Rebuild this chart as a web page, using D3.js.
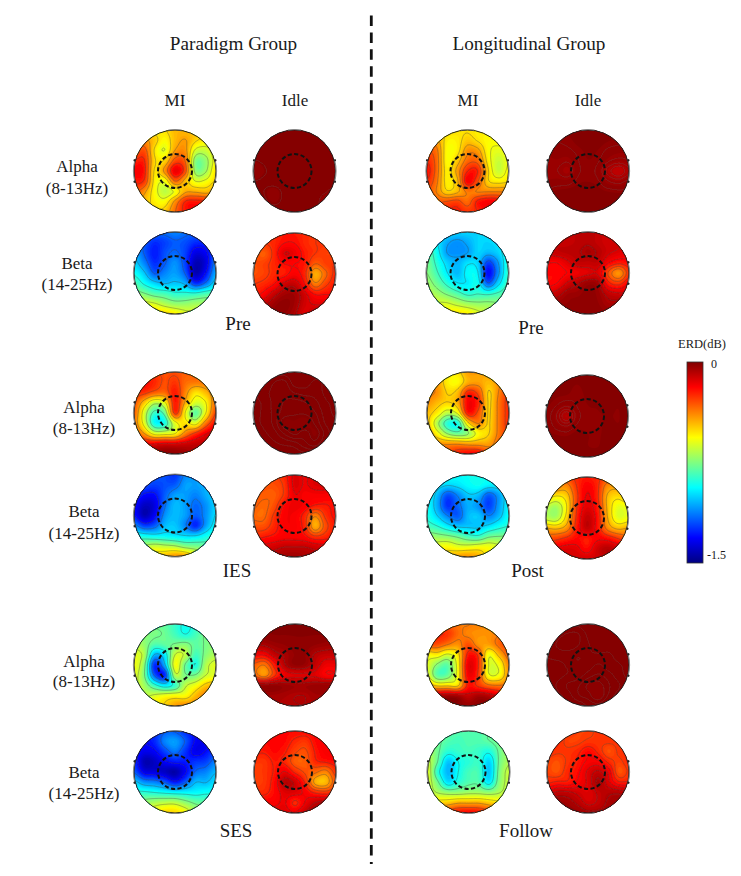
<!DOCTYPE html>
<html><head><meta charset="utf-8">
<script src="https://cdn.jsdelivr.net/npm/d3@7"></script>
<style>html,body{margin:0;padding:0;background:#fff}svg{display:block}text{font-family:"Liberation Serif","Times New Roman",serif;fill:#1a1a1a}</style>
</head><body><svg id="c" width="741" height="876"></svg>
<script>
// ERD magnitude, in hundredths of a dB below zero (0 = 0 dB, 150 = -1.5 dB), scalp grid top to bottom.
const pgPreAlphaMI=[[54,54,54,52,46,46,48,50,50],[42,40,48,56,46,42,50,54,54],[36,30,52,60,42,40,62,64,54],[24,24,50,50,30,34,74,72,56],[18,22,52,40,16,30,72,70,52],[22,26,54,58,34,46,60,58,50],[30,40,56,66,58,44,44,46,42],[40,46,54,56,40,24,22,24,30],[46,48,50,48,34,22,20,24,30]];
const pgPreAlphaIdle=[[.6,.6,.6,.5,.5,.6,.7,.7,.7],[.6,.7,.7,.5,.5,.8,1.1,.9,.7],[.8,.8,.8,.6,.5,.7,1.2,1,.8],[1.5,1.2,.9,.6,.5,.7,1.1,.9,.7],[2.5,1.6,1,.7,.6,.7,.8,.7,.6],[1.4,1.2,1,.8,.7,.7,.6,.6,.5],[1,1.4,1.8,1.2,.8,.6,.6,1.2,2.5],[.8,1.2,1.6,1.2,.8,.6,.6,3,5.5],[.7,.8,.9,.8,.6,.5,.5,1.5,2]];
const pgPreBetaMI=[[115,115,115,115,112,115,118,120,120],[112,118,125,122,118,120,125,125,120],[105,118,128,120,116,122,135,132,118],[100,112,125,118,110,122,142,136,112],[92,102,118,112,108,118,142,130,106],[82,92,100,104,102,106,125,115,98],[72,76,82,84,88,88,88,84,82],[62,60,62,68,72,72,70,70,70],[55,52,50,50,54,60,62,66,66]];
const pgPreBetaIdle=[[24,24,24,22,22,24,26,26,26],[24,26,24,20,20,24,26,26,26],[28,32,24,14,16,22,26,28,28],[30,28,24,20,20,22,32,28,26],[30,28,24,22,18,24,44,34,24],[26,24,20,12,10,20,36,28,22],[22,18,10,5,5,12,20,20,20],[18,10,4,2,5,12,14,14,16],[14,8,3,3,7,14,8,10,14]];
const lgPreAlphaMI=[[48,48,50,52,52,54,54,54,54],[40,42,54,54,48,52,56,56,56],[30,36,56,54,40,42,56,60,56],[24,34,56,48,34,34,54,64,58],[20,34,54,42,24,24,50,64,56],[24,36,54,46,18,30,50,54,52],[30,38,50,46,36,38,38,38,38],[32,32,30,28,34,22,18,20,30],[32,30,24,22,26,24,20,24,30]];
const lgPreAlphaIdle=[[2.2,2,1.5,1.2,1,1.2,1.4,1.6,1.8],[2.4,2.1,1.8,1.3,1,1.2,1.5,1.7,1.9],[2.8,2.6,2.4,1.8,1.4,1.6,2.4,2.8,2.8],[3.4,3.2,3.6,2.2,1.6,2,3.6,4.5,4],[3.8,3.8,5,2.4,2,2.6,6.5,9,6],[3,2.8,2.8,1.8,1.6,2,3.8,4.6,3.4],[1.8,1.4,1.2,1,.9,1.2,1.6,1.8,1.8],[1,.7,.6,.5,.5,.6,.8,1,1.2],[.6,.5,.5,.4,.4,.4,.5,.6,.7]];
const lgPreBetaMI=[[92,95,98,100,100,100,98,95,92],[86,96,106,110,106,100,100,98,92],[78,92,108,110,108,100,104,100,90],[76,88,100,105,98,100,122,108,88],[74,84,96,104,94,96,130,110,86],[70,78,88,96,96,92,118,100,84],[66,70,76,82,88,86,88,84,80],[62,62,62,66,70,72,72,74,78],[58,56,54,52,54,60,66,72,76]];
const lgPreBetaIdle=[[10,10,10,9,8,10,12,12,12],[10,10,10,9,8,10,12,12,14],[12,10,9,8,6,8,12,14,16],[18,18,14,10,10,10,18,22,20],[20,20,18,16,14,14,30,40,26],[20,18,12,8,4,6,22,26,18],[14,10,5,4,2,4,10,12,12],[8,4,3,2,2,3,6,6,8],[4,3,2,2,2,2,3,4,6]];
const pgIesAlphaMI=[[26,26,28,30,30,32,32,32,32],[20,20,24,30,26,34,36,36,36],[24,26,32,34,22,38,52,46,36],[30,48,66,58,22,44,62,56,34],[32,62,86,78,26,56,80,56,28],[36,60,92,90,60,52,60,36,20],[30,42,60,60,56,38,26,16,12],[22,18,16,14,14,12,10,10,12],[14,8,4,2,2,4,8,10,12]];
const pgIesAlphaIdle=[[.5,.5,.5,.5,.4,.4,.5,.5,.5],[.5,.6,.9,1,.5,.5,.7,.6,.5],[.6,.8,1,1.1,.9,.8,.8,.6,.5],[.6,.7,1,1.2,1.3,1.2,1,.7,.6],[.6,.7,1,1.3,1.4,1.4,1.2,.8,.6],[.6,.7,1,1.6,1.6,1.7,1.4,.9,.7],[.5,.6,.8,1.2,1.5,1.3,1.6,1.1,.7],[.5,.5,.6,.7,.8,1.1,1.3,.9,.6],[.4,.4,.5,.5,.5,.6,.7,.6,.5]];
const pgIesBetaMI=[[118,118,118,120,124,112,110,108,108],[118,120,122,120,118,108,108,106,106],[122,130,130,118,108,108,112,106,100],[130,140,136,115,104,108,116,110,100],[128,142,132,110,104,108,118,110,98],[110,122,118,104,102,112,126,108,94],[90,92,94,94,96,98,98,92,86],[76,68,64,66,68,74,76,78,78],[66,58,50,46,40,42,56,66,72]];
const pgIesBetaIdle=[[28,28,28,24,14,16,14,14,14],[28,30,30,26,14,16,14,14,16],[30,32,32,26,16,18,18,18,20],[32,34,30,20,16,18,22,22,20],[34,34,26,18,18,24,38,26,20],[30,30,24,18,18,24,44,30,22],[24,22,20,18,18,20,26,24,20],[16,14,12,10,10,10,12,14,16],[10,8,7,5,4,6,8,10,12]];
const lgPostAlphaMI=[[44,46,52,52,42,42,42,40,40],[38,42,54,56,44,42,46,40,34],[36,40,50,46,24,30,50,38,26],[40,46,50,44,18,24,50,36,24],[46,54,66,58,22,30,50,36,24],[46,68,88,90,52,38,50,36,24],[42,56,72,78,72,56,50,36,26],[40,40,40,40,42,42,42,34,30],[38,36,30,22,18,18,30,36,34]];
const lgPostAlphaIdle=[[.8,.8,.9,1,.9,.9,.8,.8,.8],[.9,.9,1.1,1.6,1.2,1.5,1,.9,.8],[1,1.4,1.6,2,1.4,1.5,1.3,1,.9],[1.4,2.2,3.4,2.2,1.6,1.5,1.2,1.5,1.1],[1.6,3.6,8,3,1.8,1.7,1.5,1.6,1.3],[1.5,2.6,3.6,2,1.7,1.8,1.3,1.5,1.3],[1.2,1.4,1.5,1.1,1.5,1.7,1.2,1.1,1],[.9,.9,.9,1,1.5,1.6,1,.9,.9],[.8,.8,.8,.8,.9,.9,.8,.8,.8]];
const lgPostBetaMI=[[88,90,92,94,92,92,92,92,90],[90,96,100,98,94,92,96,96,92],[92,104,120,112,102,104,118,108,94],[92,106,124,116,106,110,122,108,94],[90,100,112,118,104,102,112,104,92],[84,88,96,102,102,102,98,92,88],[70,72,74,78,84,86,78,76,76],[62,58,56,60,60,58,58,62,66],[56,50,48,42,40,44,56,60,62]];
const lgPostBetaIdle=[[30,30,30,24,22,24,30,32,34],[34,38,40,26,18,24,40,42,38],[50,56,50,28,16,24,46,52,46],[66,70,54,26,14,22,46,60,58],[66,68,50,24,10,20,44,60,58],[44,46,40,22,10,20,38,46,44],[30,28,24,20,22,18,20,26,32],[20,16,14,15,20,12,8,12,20],[16,12,12,12,12,12,10,12,16]];
const pgSesAlphaMI=[[74,76,78,80,86,92,88,80,78],[72,74,76,78,84,90,84,76,74],[66,72,82,80,76,74,80,76,72],[60,68,104,96,64,66,84,74,68],[58,74,125,105,58,78,90,68,60],[60,76,118,125,68,76,76,64,60],[62,70,86,96,86,66,58,48,44],[66,66,62,58,56,56,46,38,40],[64,60,54,50,42,38,40,44,46]];
const pgSesAlphaIdle=[[1.5,1.5,1.5,1.5,1.5,1.5,1.5,1.5,1.5],[2,2,1.5,1.5,1.5,1.5,1.5,1.5,1.5],[7,6,4,3,2,2,3,4,5],[18,18,10,6,3,3,8,10,10],[32,36,22,8,3,4,10,16,16],[32,40,26,16,14,14,14,18,18],[5,4,3,4,5,5,4,4,4],[5,5,5,6,7,7,5,5,5],[5,5,6,7,7,7,6,6,6]];
const pgSesBetaMI=[[128,130,126,118,118,125,130,130,130],[128,130,126,112,108,118,132,134,130],[128,134,132,122,114,124,134,130,122],[125,142,140,132,128,128,124,122,112],[118,134,136,140,144,132,116,112,104],[100,110,112,118,128,118,104,104,98],[88,88,90,92,94,94,94,92,92],[76,72,68,66,66,72,78,80,80],[64,60,56,50,50,56,68,72,74]];
const pgSesBetaIdle=[[20,20,20,20,20,20,20,20,20],[20,20,20,20,24,26,20,18,18],[22,22,20,22,28,30,22,18,18],[26,26,22,24,32,32,24,22,20],[28,26,22,16,24,30,34,38,26],[28,26,20,8,12,24,44,46,30],[24,24,20,14,14,18,24,26,22],[18,18,18,16,24,16,10,8,10],[14,14,14,14,16,10,6,4,6]];
const lgFollowAlphaMI=[[30,30,32,36,36,38,38,36,36],[26,24,26,34,38,40,40,36,30],[30,30,36,40,30,40,42,34,26],[56,54,62,52,22,26,58,46,32],[60,74,80,56,16,24,60,58,38],[58,80,78,56,18,26,58,58,40],[42,50,50,50,22,26,34,36,34],[16,8,5,6,10,6,8,14,18],[6,3,2,2,3,2,2,4,8]];
const lgFollowAlphaIdle=[[.5,.5,.6,.6,.4,.4,.4,.4,.4],[.6,.8,1,1,.6,.5,.5,.5,.5],[.7,1,1.2,1,.7,.6,.6,.6,.5],[.7,.8,.8,.7,.7,.7,.7,.6,.5],[.6,.6,.7,.7,.8,1,.8,.7,.6],[.6,.6,.7,.8,1.1,1.3,1.1,.8,.6],[.6,.7,1,1.2,1.6,1.7,1.3,1,.7],[.5,.6,.8,1.2,1.4,1.8,1.2,.8,.6],[.4,.5,.6,.7,1,1.1,.7,.6,.5]];
const lgFollowBetaMI=[[76,78,80,82,82,82,80,78,76],[74,78,82,84,82,82,80,76,72],[68,78,88,86,84,86,90,78,70],[64,80,102,92,88,86,100,78,68],[60,88,104,92,84,84,102,76,64],[62,78,98,88,82,82,96,74,64],[62,68,72,72,70,70,72,68,62],[52,50,48,44,44,44,48,52,52],[38,32,26,20,18,20,26,34,40]];
const lgFollowBetaIdle=[[22,24,26,28,28,26,26,26,26],[22,24,28,28,26,26,26,26,26],[24,26,26,24,20,24,30,26,24],[28,30,26,22,18,18,24,28,24],[28,30,24,20,14,10,16,30,26],[24,22,22,18,14,6,14,22,22],[14,10,10,12,14,10,8,8,10],[6,4,5,8,12,10,6,5,5],[3,3,3,4,6,6,5,4,5]];

const groupTitles=["Paradigm Group","Longitudinal Group"];
const conditionTitles=["MI","Idle"];
const bandLines=[["Alpha","(8-13Hz)"],["Beta","(14-25Hz)"]];
const sessionLabels=[["Pre","Pre"],["IES","Post"],["SES","Follow"]];
const colorTicks=[0,-1.5];
const jetStops=["#800000","#ff0000","#ff8000","#ffff00","#80ff80","#00ffff","#0080ff","#0000ff","#000080"];

const maps=[
 [pgPreAlphaMI,175,171],[pgPreAlphaIdle,294.5,171],[pgPreBetaMI,175,273],[pgPreBetaIdle,294.5,274],
 [lgPreAlphaMI,467.5,171],[lgPreAlphaIdle,588,171],[lgPreBetaMI,467.5,273],[lgPreBetaIdle,588,273],
 [pgIesAlphaMI,175,413],[pgIesAlphaIdle,294.5,413],[pgIesBetaMI,175,515.5],[pgIesBetaIdle,294.5,516],
 [lgPostAlphaMI,468,413],[lgPostAlphaIdle,587,416],[lgPostBetaMI,468,516],[lgPostBetaIdle,587,518],
 [pgSesAlphaMI,175,665],[pgSesAlphaIdle,295,665],[pgSesBetaMI,175,772],[pgSesBetaIdle,295,772],
 [lgFollowAlphaMI,468,665],[lgFollowAlphaIdle,588,665],[lgFollowBetaMI,468.5,772],[lgFollowBetaIdle,588,772]
];

const R=41, ringR=17, UP=8;
const svg=d3.select("#c");
const defs=svg.append("defs");
defs.append("filter").attr("id","soft").attr("x","-5%").attr("y","-5%").attr("width","110%").attr("height","110%")
  .append("feGaussianBlur").attr("stdDeviation",0.45);
defs.append("clipPath").attr("id","head").append("circle").attr("r",R);
const gr=defs.append("linearGradient").attr("id","jet").attr("x1",0).attr("x2",0).attr("y1",0).attr("y2",1);

const color=d3.scaleLinear().domain(d3.range(jetStops.length).map(i=>-1.5*i/(jetStops.length-1))).range(jetStops).interpolate(d3.interpolateRgb).clamp(true);
jetStops.forEach((c,i)=>gr.append("stop").attr("offset",i/(jetStops.length-1)).attr("stop-color",c));

function cr(p0,p1,p2,p3,t){return 0.5*((2*p1)+(-p0+p2)*t+(2*p0-5*p1+4*p2-p3)*t*t+(-p0+3*p1-3*p2+p3)*t*t*t);}
function upsample(g){
  const k=g.length, n=(k-1)*UP+1, out=new Float64Array(n*n);
  const at=(r,c)=>g[Math.max(0,Math.min(k-1,r))][Math.max(0,Math.min(k-1,c))];
  for(let y=0;y<n;y++){const fy=y/UP,ry=Math.min(k-2,Math.floor(fy)),ty=fy-ry;
    for(let x=0;x<n;x++){const fx=x/UP,rx=Math.min(k-2,Math.floor(fx)),tx=fx-rx;
      const col=[-1,0,1,2].map(d=>cr(at(ry+d,rx-1),at(ry+d,rx),at(ry+d,rx+1),at(ry+d,rx+2),tx));
      out[y*n+x]=-Math.max(0,cr(col[0],col[1],col[2],col[3],ty))/100;
    }}
  return {values:out,n};
}
const levels=d3.range(0,96).map(i=>-1.5+1.5*i/96);
maps.forEach(([grid,cx,cy])=>{
  const {values,n}=upsample(grid);
  const sc=d3.scaleLinear().domain([0.5,n-0.5]).range([-R,R]);
  const path=d3.geoPath(d3.geoTransform({point(x,y){this.stream.point(sc(x),sc(y));}}));
  const [lo,hi]=d3.extent(values);
  const g=svg.append("g").attr("transform",`translate(${cx},${cy})`);
  const body=g.append("g").attr("filter","url(#soft)");
  const fill=body.append("g").attr("clip-path","url(#head)");
  fill.append("circle").attr("r",R).attr("fill",color(lo));
  const used=levels.filter(t=>t>lo&&t<hi);
  const gen=d3.contours().size([n,n]).smooth(true);
  fill.selectAll("path.f").data(used).join("path").attr("class","f")
    .attr("d",t=>path(gen.contour(values,t))).attr("fill",t=>color(t+1.5/192));
  const flat=hi-lo<0.1;
  const lines=d3.range(1,flat?5:7).map(i=>lo+(hi-lo)*i/(flat?5:7));
  fill.selectAll("path.l").data(lines).join("path").attr("class","l")
    .attr("d",t=>path(gen.contour(values,t))).attr("fill","none").attr("stroke",flat?"#666":"#444").attr("stroke-opacity",flat?.5:.65).attr("stroke-width",.55);
  body.append("circle").attr("r",R).attr("fill","none").attr("stroke","#222").attr("stroke-width",1);
  const arc=d3.arc().innerRadius(R).outerRadius(R+1.1);
  [[-.16,.16],[Math.PI-.16,Math.PI+.16],[Math.PI/2-.26,Math.PI/2+.26],[-Math.PI/2-.26,-Math.PI/2+.26]].forEach(a=>
    body.append("path").attr("d",arc({startAngle:a[0],endAngle:a[1]})).attr("fill","#888"));
  [Math.PI/2-.26,Math.PI/2+.26,-Math.PI/2-.26,-Math.PI/2+.26].forEach(a=>
    body.append("path").attr("d",d3.arc().innerRadius(R).outerRadius(R+1.8)({startAngle:a-.025,endAngle:a+.025})).attr("fill","#222"));
  g.append("circle").attr("r",ringR).attr("fill","none").attr("stroke","#111").attr("stroke-width",2).attr("stroke-dasharray","4.2 2.4");
});

svg.append("line").attr("x1",371.3).attr("x2",371.3).attr("y1",15.5).attr("y2",864).attr("stroke","#111").attr("stroke-width",2.8).attr("stroke-dasharray","10.5 6.43");

function label(x,y,t,size){svg.append("text").attr("x",x).attr("y",y).attr("text-anchor","middle").attr("dominant-baseline","central").attr("font-size",size).text(t);}
label(233.5,43,groupTitles[0],19.2);label(529,43,groupTitles[1],19.2);
[[175,295],[468,588]].forEach(xs=>xs.forEach((x,i)=>label(x,100,conditionTitles[i],17)));
[[77,166,188,263,284],[84,407,428,511,533],[84,661,681,772,793]].forEach(([x,a1,a2,b1,b2])=>{
  label(x,a1,bandLines[0][0],17);label(x,a2,bandLines[0][1],17);
  label(x,b1,bandLines[1][0],17);label(x,b2,bandLines[1][1],17);
});
[[238,323,531,327],[237,570,527.5,570],[236,830,526,830]].forEach(([x1,y1,x2,y2],i)=>{
  label(x1,y1,sessionLabels[i][0],19);label(x2,y2,sessionLabels[i][1],19);
});

const barY=d3.scaleLinear().domain([0,-1.5]).range([362,563]);
svg.append("rect").attr("x",687).attr("y",barY(0)).attr("width",16).attr("height",barY(-1.5)-barY(0)).attr("fill","url(#jet)").attr("stroke","#333").attr("stroke-width",.8);
label(702,344,"ERD(dB)",12.5);
svg.append("text").attr("x",711).attr("y",364).attr("dominant-baseline","central").attr("font-size",12).text(String(colorTicks[0]));
svg.append("text").attr("x",707).attr("y",555).attr("dominant-baseline","central").attr("font-size",12).text(String(colorTicks[1]));
</script></body></html>
